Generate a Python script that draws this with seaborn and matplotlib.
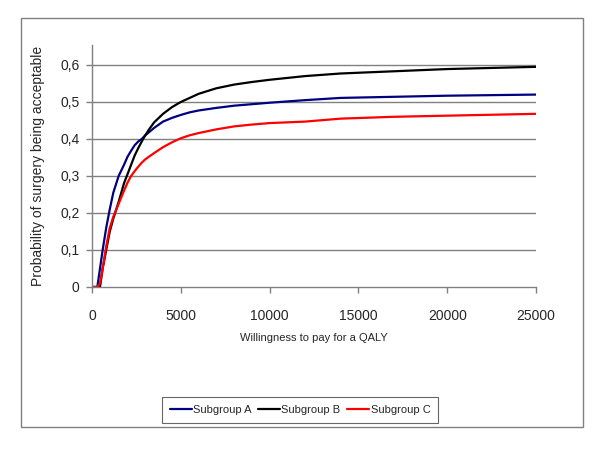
import pandas as pd
import matplotlib
matplotlib.use('Agg')
import matplotlib.pyplot as plt
from matplotlib.patches import Rectangle
from matplotlib.ticker import FuncFormatter
import seaborn as sns

# willingness to pay values (x axis)
wtp = [0, 300, 450, 600, 800, 1000, 1200, 1500, 1800, 2000, 2200, 2400,
       2600, 2800, 3000, 3200, 3500, 4000, 4500, 5000, 5500, 6000, 7000,
       8000, 9000, 10000, 12000, 14000, 17000, 20000, 25000]

# probability of surgery being acceptable
subgroup_a = [0, 0, 0.05, 0.10, 0.16, 0.21, 0.255, 0.30, 0.33, 0.352, 0.368,
              0.383, 0.393, 0.40, 0.41, 0.418, 0.43, 0.447, 0.457, 0.465,
              0.472, 0.477, 0.484, 0.49, 0.494, 0.498, 0.505, 0.511, 0.514,
              0.517, 0.52]
subgroup_b = [0, 0, 0, 0.05, 0.10, 0.15, 0.185, 0.23, 0.28, 0.305, 0.33,
              0.355, 0.375, 0.393, 0.41, 0.425, 0.445, 0.468, 0.486, 0.50,
              0.511, 0.522, 0.537, 0.547, 0.554, 0.56, 0.57, 0.577, 0.583,
              0.589, 0.595]
subgroup_c = [0, 0, 0.01, 0.05, 0.11, 0.16, 0.19, 0.225, 0.26, 0.282, 0.30,
              0.313, 0.325, 0.336, 0.345, 0.352, 0.362, 0.378, 0.391, 0.402,
              0.41, 0.416, 0.426, 0.434, 0.439, 0.443, 0.447, 0.455, 0.46,
              0.463, 0.468]

group_names = ['Subgroup A', 'Subgroup B', 'Subgroup C']
group_colors = ['#000080', '#000000', '#ff0000']

df = pd.concat([
    pd.DataFrame({'wtp': wtp, 'prob': vals, 'group': name})
    for name, vals in zip(group_names, [subgroup_a, subgroup_b, subgroup_c])
])

sns.set_style('white')
plt.rcParams['font.family'] = ['Liberation Sans', 'DejaVu Sans']

fig = plt.figure(figsize=(6, 4.5), dpi=100)
ax = fig.add_axes([92 / 600, 1 - 287 / 450, 444 / 600, 242 / 450])

sns.lineplot(data=df, x='wtp', y='prob', hue='group', hue_order=group_names,
             palette=group_colors, estimator=None, linewidth=1.6, ax=ax)

ax.set_xlim(0, 25000)
ax.set_ylim(0, 0.654)
ax.set_xticks([0, 5000, 10000, 15000, 20000, 25000])
ax.set_yticks([0, 0.1, 0.2, 0.3, 0.4, 0.5, 0.6])
ax.yaxis.set_major_formatter(FuncFormatter(lambda v, p: f'{v:.1f}'.replace('.', ',') if v > 0 else '0'))

for y in [0.1, 0.2, 0.3, 0.4, 0.5, 0.6]:
    ax.axhline(y, color='#808080', linewidth=1, zorder=0)

for side in ['top', 'right']:
    ax.spines[side].set_visible(False)
for side in ['left', 'bottom']:
    ax.spines[side].set_color('#808080')
    ax.spines[side].set_linewidth(1)

ax.tick_params(axis='both', which='major', direction='out', length=4,
               width=1, color='#808080', labelsize=10, bottom=True, left=True)
ax.tick_params(axis='y', pad=5)
ax.tick_params(axis='x', pad=12)

ax.set_xlabel('Willingness to pay for a QALY', fontsize=8)
ax.xaxis.set_label_coords(0.5, -0.19)
ax.set_ylabel('Probability of surgery being acceptable', fontsize=10)
ax.yaxis.set_label_coords(-0.106, 0.5)

handles, labels = ax.get_legend_handles_labels()
ax.get_legend().remove()
leg = fig.legend(handles, labels, loc='center', bbox_to_anchor=(0.5, 1 - 410 / 450),
                 ncol=3, fontsize=8, frameon=True, fancybox=False,
                 edgecolor='#404040', handlelength=2.0, handletextpad=0.1,
                 columnspacing=0.6, borderpad=0.7)
leg.get_frame().set_linewidth(0.8)

fig.add_artist(Rectangle((21 / 600, 1 - 427 / 450), 562 / 600, 409 / 450,
                         transform=fig.transFigure, fill=False,
                         edgecolor='#808080', linewidth=1))

fig.savefig('out.png', dpi=100)
